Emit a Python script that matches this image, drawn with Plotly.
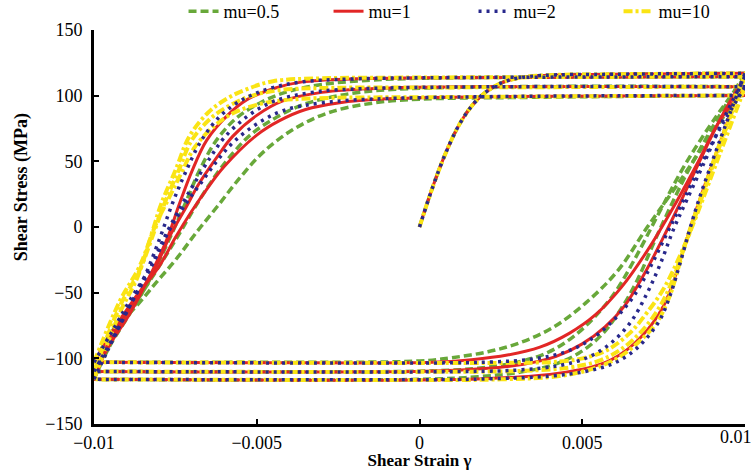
import plotly.graph_objects as go

# Monotonic (first) loading branch, shared by all four cases
INIT_X = [0.0, 0.0004, 0.0008, 0.0012, 0.0016, 0.0020, 0.0025, 0.0030, 0.0038, 0.0060, 0.0100]
INIT_Y = [0.0, 30, 56, 77, 92, 102, 109.5, 113.3, 115.4, 116.3, 117]

# Reversal branches in loading order: down1, up1, down2, up2, down3, up3
MU05_X = [
    [0.0100, 0.0091, 0.0083, 0.0077, 0.0072, 0.0067, 0.0062, 0.0056, 0.0049, 0.0041, 0.0031, 0.0018, 0.0000, -0.0100],
    [-0.0100, -0.0095, -0.0088, -0.0082, -0.0077, -0.00716, -0.00676, -0.00624, -0.00562, -0.00482, -0.0040, -0.0030, -0.0015, 0.0000, 0.0100],
    [0.0100, 0.0090, 0.0081, 0.0073, 0.0066, 0.0060, 0.0054, 0.0047, 0.0039, 0.0029, 0.0018, 0.0005, -0.0050, -0.0100],
    [-0.0100, -0.0094, -0.0087, -0.0080, -0.0074, -0.0069, -0.0063, -0.00574, -0.0052, -0.0045, -0.0037, -0.0027, -0.0010, 0.0100],
    [0.0100, 0.0090, 0.0080, 0.0070, 0.0061, 0.0051, 0.0041, 0.0031, 0.0021, 0.0010, 0.0000, -0.0050, -0.0100],
    [-0.0100, -0.0094, -0.00869, -0.00808, -0.00746, -0.00685, -0.0062, -0.0055, -0.0048, -0.0039, -0.0028, -0.0014, 0.0000, 0.0030, 0.0100],
]
MU05_Y = [
    [117, 80, 45, 15, -12, -40, -62, -82, -96, -105, -110.5, -114, -116, -116],
    [-116, -90, -62, -36, -10, 20, 43, 66, 83, 95.5, 103.5, 108.5, 111.8, 113.2, 114.5],
    [114.5, 80, 45, 8, -25, -50, -68, -84, -96, -103.5, -107.5, -109.5, -110.2, -110],
    [-110, -84, -57, -30, -6, 15, 38, 56, 70, 82, 92, 99, 104.5, 106.8],
    [106.5, 72, 35, 0, -33, -58, -76.5, -88, -95, -99.5, -102, -103, -103],
    [-103, -78, -60, -42, -24, -4, 16, 38, 57, 74, 87, 94.5, 97.3, 98.6, 100.2],
]

MU1_X = [
    [0.0100, 0.0092, 0.0085, 0.0081, 0.00777, 0.0075, 0.0072, 0.0068, 0.0064, 0.0059, 0.0053, 0.0045, 0.0035, 0.0020, 0.0000, -0.0100],
    [-0.0100, -0.00962, -0.0089, -0.0083, -0.00777, -0.00737, -0.0070, -0.00654, -0.0059, -0.0053, -0.0044, -0.0036, -0.0020, 0.0000, 0.0100],
    [0.0100, 0.0093, 0.0087, 0.0080, 0.00745, 0.0069, 0.0063, 0.0057, 0.0050, 0.0042, 0.0032, 0.0020, 0.0005, -0.0100],
    [-0.0100, -0.0095, -0.0088, -0.0081, -0.00765, -0.00715, -0.0068, -0.0062, -0.00574, -0.0050, -0.0042, -0.0030, -0.0012, 0.0100],
    [0.0100, 0.0092, 0.00857, 0.0078, 0.0070, 0.0062, 0.0054, 0.0046, 0.0037, 0.0027, 0.0016, 0.0004, -0.0050, -0.0100],
    [-0.0100, -0.0095, -0.0088, -0.0080, -0.0075, -0.0070, -0.0065, -0.0060, -0.0050, -0.0043, -0.0035, -0.0025, -0.0010, 0.0100],
]
MU1_Y = [
    [117, 62, 13, -18, -44, -60, -72, -84, -93, -101, -106.5, -110.5, -113.5, -115.5, -116.5, -116],
    [-116, -94, -66, -38, -10, 18, 42, 66, 85, 97, 106, 110.5, 112.8, 113.6, 114.5],
    [114.5, 85, 55, 18, -10, -36, -60, -76, -89, -98.5, -104.5, -107.8, -109.7, -110],
    [-110, -86, -58, -30, -6, 16, 32, 54, 69, 85, 96, 102.5, 105.6, 106.8],
    [106.5, 80, 50, 15, -18, -46, -67, -81, -91.5, -97.5, -101, -103, -103.3, -103],
    [-103, -82, -56, -30, -8, 12, 30, 46, 70, 81, 89.5, 94.5, 97.6, 100.2],
]

MU2_X = [
    [0.0100, 0.0092, 0.0086, 0.0083, 0.0080, 0.0077, 0.0074, 0.0070, 0.0065, 0.0059, 0.0051, 0.0040, 0.0022, 0.0000, -0.0100],
    [-0.0100, -0.0096, -0.0090, -0.00845, -0.0080, -0.00759, -0.0072, -0.0067, -0.0061, -0.0054, -0.0046, -0.0036, -0.0020, 0.0000, 0.0100],
    [0.0100, 0.0093, 0.0088, 0.0082, 0.0078, 0.0074, 0.0070, 0.0065, 0.0059, 0.0052, 0.0043, 0.0031, 0.0015, -0.0100],
    [-0.0100, -0.0095, -0.0089, -0.0083, -0.0078, -0.0073, -0.0069, -0.0064, -0.0060, -0.0053, -0.0045, -0.0033, -0.0015, 0.0100],
    [0.0100, 0.0093, 0.0087, 0.0081, 0.0076, 0.0071, 0.0066, 0.0060, 0.0053, 0.0045, 0.0035, 0.0022, 0.0005, -0.0100],
    [-0.0100, -0.0095, -0.0089, -0.0082, -0.0077, -0.0072, -0.0067, -0.0062, -0.0057, -0.0050, -0.0042, -0.0030, -0.0010, 0.0100],
]
MU2_Y = [
    [117, 64, 22, -2, -28, -52, -70, -84, -96, -104.5, -110, -113.5, -115.6, -116.3, -116],
    [-116, -95, -65, -38, -10, 18, 41, 66, 85, 97.5, 105.5, 110.5, 112.8, 113.6, 114.5],
    [114.5, 80, 52, 20, -2, -28, -50, -72, -88, -99, -105.5, -108.8, -110, -110],
    [-110, -88, -60, -33, -6, 17, 34, 54, 68, 84, 95.5, 102.5, 105.5, 106.8],
    [106.5, 78, 50, 20, -5, -30, -52, -70, -85, -95, -100.5, -102.8, -103.5, -103],
    [-103, -82, -56, -28, -3, 17, 34, 51, 65, 78.5, 88.5, 94.5, 97.8, 100.2],
]

MU10_X = [
    [0.0100, 0.0092, 0.0085, 0.0082, 0.0080, 0.00768, 0.00728, 0.00676, 0.00614, 0.00544, 0.0043, 0.0025, 0.0000, -0.0100],
    [-0.0100, -0.0092, -0.00866, -0.0082, -0.00793, -0.0075, -0.00707, -0.0065, -0.0059, -0.0053, -0.0045, -0.0030, 0.0000, 0.0100],
    [0.0100, 0.0092, 0.0085, 0.0081, 0.0077, 0.0073, 0.0068, 0.0062, 0.0055, 0.0046, 0.0032, 0.0000, -0.0100],
    [-0.0100, -0.0092, -0.0086, -0.0081, -0.0078, -0.0074, -0.0070, -0.0064, -0.0058, -0.0052, -0.0044, -0.0030, 0.0000, 0.0100],
    [0.0100, 0.0092, 0.0085, 0.0080, 0.0075, 0.00697, 0.00645, 0.00574, 0.00501, 0.0043, 0.0025, 0.0000, -0.0100],
    [-0.0100, -0.0092, -0.0086, -0.0081, -0.0077, -0.0073, -0.0069, -0.0063, -0.0057, -0.0050, -0.0042, -0.0028, 0.0000, 0.0100],
]
MU10_Y = [
    [117, 62, 12, -10, -27, -53, -73, -87, -99, -107, -113.5, -116, -116.5, -116],
    [-116, -65, -38, -3, 18, 43, 69, 87, 98, 105, 111, 113.2, 113.8, 114.5],
    [114.5, 60, 10, -18, -45, -64, -80, -93, -102, -107, -109.5, -110.3, -110],
    [-110, -60, -33, 0, 20, 43, 66, 83, 93, 99.5, 104, 105.8, 106.2, 106.8],
    [106.5, 54, 8, -22, -47, -65.8, -81, -94, -100, -102.5, -103.5, -103.5, -103],
    [-103, -56, -30, 2, 22, 42, 61, 77, 87, 93, 96.5, 98.3, 98.8, 100.2],
]

X_TICKS = [-0.01, -0.005, 0, 0.005, 0.01]
X_TICK_TEXT = ["\u22120.01", "\u22120.005", "0", "0.005", "0.01"]
Y_TICKS = [-150, -100, -50, 0, 50, 100, 150]
Y_TICK_TEXT = ["\u2212150", "\u2212100", "\u221250", "0", "50", "100", "150"]


def full_path(branch_x, branch_y):
    """Join the first loading branch and every reversal branch, with gaps between them."""
    xs, ys = list(INIT_X), list(INIT_Y)
    for bx, by in zip(branch_x, branch_y):
        xs += [None] + bx
        ys += [None] + by
    return xs, ys


SERIF = "Liberation Serif, Times New Roman, serif"

# drawing order (bottom to top) and legend rank
cases = [
    dict(name="mu=0.5", bx=MU05_X, by=MU05_Y, color="rgb(104,168,58)", dash="8px,4px", width=3.5, rank=1),
    dict(name="mu=1", bx=MU1_X, by=MU1_Y, color="rgb(226,38,38)", dash="solid", width=3, rank=2),
    dict(name="mu=10", bx=MU10_X, by=MU10_Y, color="rgb(250,228,20)", dash="9px,3px,3px,3px", width=4, rank=4),
    dict(name="mu=2", bx=MU2_X, by=MU2_Y, color="rgb(40,40,140)", dash="3px,5px", width=3.5, rank=3),
]

fig = go.Figure()
for c in cases:
    xs, ys = full_path(c["bx"], c["by"])
    fig.add_trace(go.Scatter(
        x=xs, y=ys, mode="lines", name=c["name"], legendrank=c["rank"],
        connectgaps=False, cliponaxis=False,
        line=dict(color=c["color"], width=c["width"], dash=c["dash"], shape="spline", smoothing=1.0),
    ))

axis_common = dict(
    showline=True, linecolor="black", linewidth=3, mirror=False,
    ticks="inside", ticklen=5, tickwidth=2, tickcolor="black",
    showgrid=False, zeroline=False,
    tickfont=dict(family=SERIF, size=18, color="black"),
)

# the rightmost x label sits at the page edge, so it is drawn right-aligned as an annotation
x_text_main = X_TICK_TEXT[:-1] + [""]

fig.update_layout(
    width=754, height=470,
    margin=dict(l=94, r=9, t=30, b=46, autoexpand=False),
    paper_bgcolor="white", plot_bgcolor="white",
    font=dict(family=SERIF, color="black"),
    legend=dict(
        orientation="h", x=0.583, xanchor="center", y=1.0, yanchor="bottom",
        font=dict(family=SERIF, size=18, color="black"),
        bgcolor="rgba(0,0,0,0)", entrywidth=100, tracegroupgap=0,
    ),
    xaxis=dict(
        range=[-0.01, 0.01], tickvals=X_TICKS, ticktext=x_text_main,
        title=dict(text="<b>Shear Strain \u03b3</b>", font=dict(family=SERIF, size=17), standoff=0),
        **axis_common,
    ),
    yaxis=dict(
        range=[-150, 150], tickvals=Y_TICKS, ticktext=Y_TICK_TEXT, ticklabelstandoff=5,
        **axis_common,
    ),
    annotations=[
        dict(
            text="<b>Shear Stress (MPa)</b>", textangle=-90, showarrow=False,
            xref="paper", yref="paper", x=-0.111, y=0.60, xanchor="center", yanchor="middle",
            font=dict(family=SERIF, size=18, color="black"),
        ),
        dict(
            text=X_TICK_TEXT[-1], showarrow=False,
            xref="paper", yref="paper", x=1.0138, y=0.0, xanchor="right", yanchor="top",
            yshift=-1, font=dict(family=SERIF, size=18, color="black"),
        ),
    ],
)

fig.write_html("out.html")
